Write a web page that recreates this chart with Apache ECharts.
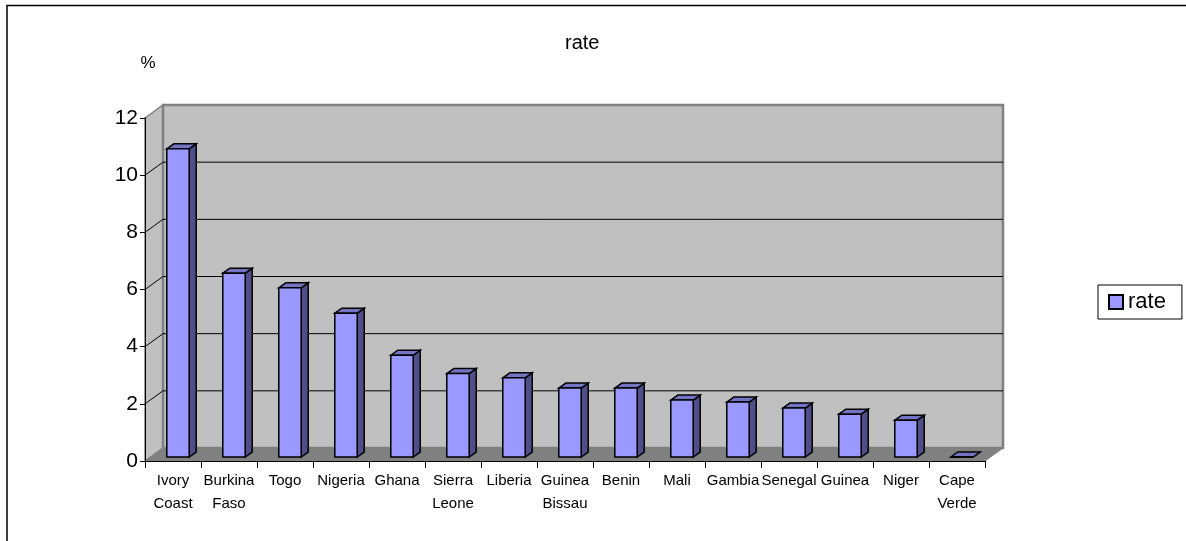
<!DOCTYPE html>
<html>
<head>
<meta charset="utf-8">
<script src="https://cdn.jsdelivr.net/npm/echarts@6/dist/echarts.min.js"></script>
<style>
  html, body { margin: 0; padding: 0; background: #fff; }
  #main { width: 1186px; height: 541px; }
</style>
</head>
<body>
<div id="main"></div>
<script>
var countries = ['Ivory\nCoast', 'Burkina\nFaso', 'Togo', 'Nigeria', 'Ghana', 'Sierra\nLeone', 'Liberia',
  'Guinea\nBissau', 'Benin', 'Mali', 'Gambia', 'Senegal', 'Guinea', 'Niger', 'Cape\nVerde'];
var rates = [10.78, 6.43, 5.92, 5.03, 3.56, 2.92, 2.77, 2.41, 2.41, 1.99, 1.92, 1.71, 1.5, 1.29, 0];
var yTicks = [0, 2, 4, 6, 8, 10, 12];

// depth of the 3d box (walls) and of each bar, in px
var DX = 18, DY = -13;
var BDX = 7, BDY = -5;

var chart = echarts.init(document.getElementById('main'));

// back wall, side wall, floor and gridlines
function renderWalls(params, api) {
  var n = countries.length;
  var bw = api.size([1, 0])[0];
  var x0 = api.coord([0, 0])[0] - bw / 2;
  var x1 = api.coord([n - 1, 0])[0] + bw / 2;
  var y0 = api.coord([0, 0])[1];
  var yTop = api.coord([0, yTicks[yTicks.length - 1]])[1];
  var kids = [];
  kids.push({
    type: 'polygon',
    shape: { points: [[x0, yTop], [x0 + DX, yTop + DY], [x0 + DX, y0 + DY], [x0, y0]] },
    style: { fill: '#C0C0C0', stroke: '#808080', lineWidth: 1.5 }
  });
  kids.push({
    type: 'rect',
    shape: { x: x0 + DX, y: yTop + DY, width: x1 - x0, height: y0 - yTop },
    style: { fill: '#C0C0C0', stroke: '#808080', lineWidth: 2.5 }
  });
  kids.push({
    type: 'polygon',
    shape: { points: [[x0, y0], [x0 + DX, y0 + DY], [x1 + DX, y0 + DY], [x1, y0]] },
    style: { fill: '#808080', stroke: '#808080', lineWidth: 1 }
  });
  for (var i = 1; i < yTicks.length - 1; i++) {
    var y = api.coord([0, yTicks[i]])[1];
    kids.push({
      type: 'polyline',
      shape: { points: [[x0, y], [x0 + DX, y + DY], [x1 + DX, y + DY]] },
      style: { fill: null, stroke: '#000', lineWidth: 1 }
    });
  }
  return { type: 'group', children: kids };
}

function renderBar(params, api) {
  var idx = api.value(0);
  var top = api.coord([idx, api.value(1)]);
  var base = api.coord([idx, 0]);
  var bw = api.size([1, 0])[0];
  var w = bw * 0.4;
  var fx = top[0] - w / 2 + 5;
  var ty = top[1] - 4;
  var by = base[1] - 4;
  return {
    type: 'group',
    children: [
      {
        type: 'polygon',
        shape: { points: [[fx + w, ty], [fx + w + BDX, ty + BDY], [fx + w + BDX, by + BDY], [fx + w, by]] },
        style: { fill: '#4F4F8A', stroke: '#000', lineWidth: 1.5 }
      },
      {
        type: 'polygon',
        shape: { points: [[fx, ty], [fx + BDX, ty + BDY], [fx + w + BDX, ty + BDY], [fx + w, ty]] },
        style: { fill: '#7474C4', stroke: '#000', lineWidth: 1.5 }
      },
      {
        type: 'rect',
        shape: { x: fx, y: ty, width: w, height: by - ty },
        style: { fill: '#9999FF', stroke: '#000', lineWidth: 1.5 }
      }
    ]
  };
}

var option = {
  animation: false,
  textStyle: { fontFamily: 'Liberation Sans, Arial, sans-serif', color: '#000' },
  title: {
    text: 'rate',
    left: 560,
    top: 28,
    textStyle: { fontSize: 20, fontWeight: 'normal', color: '#000' }
  },
  legend: {
    data: ['rate'],
    left: 1098,
    top: 285,
    orient: 'vertical',
    icon: 'rect',
    itemWidth: 14,
    itemHeight: 14,
    padding: [6, 16, 6, 10],
    borderColor: '#000',
    borderWidth: 1,
    textStyle: { fontSize: 22, color: '#000' }
  },
  graphic: [{
    type: 'polyline',
    shape: { points: [[7, 541], [7, 5.5], [1186, 5.5]] },
    style: { fill: null, stroke: '#000', lineWidth: 1.5 }
  }],
  grid: { left: 145, right: 201, top: 118, bottom: 80 },
  xAxis: {
    type: 'category',
    data: countries,
    z: 5,
    axisLine: { lineStyle: { color: '#000', width: 1 } },
    axisTick: { show: true, interval: 0, length: 7, lineStyle: { color: '#000' } },
    axisLabel: { interval: 0, fontSize: 15, lineHeight: 23, margin: 8, color: '#000' },
    splitLine: { show: false }
  },
  yAxis: {
    type: 'value',
    min: 0,
    max: 12,
    interval: 2,
    z: 5,
    name: '%',
    nameLocation: 'end',
    nameGap: 46,
    nameTextStyle: { fontSize: 17, color: '#000', align: 'center', padding: [0, 0, 0, 6] },
    axisLine: { show: true, lineStyle: { color: '#000', width: 1 } },
    axisTick: { show: true, length: 5, lineStyle: { color: '#000' } },
    axisLabel: { fontSize: 21, margin: 7, color: '#000' },
    splitLine: { show: false }
  },
  series: [
    {
      name: 'walls',
      type: 'custom',
      silent: true,
      z: 1,
      clip: false,
      renderItem: renderWalls,
      data: [[0, 0]]
    },
    {
      name: 'rate',
      type: 'custom',
      z: 3,
      clip: false,
      itemStyle: { color: '#9999FF', borderColor: '#000', borderWidth: 1 },
      renderItem: renderBar,
      encode: { x: 0, y: 1 },
      data: rates.map(function (v, i) { return [i, v]; })
    }
  ]
};

chart.setOption(option);
</script>
</body>
</html>
